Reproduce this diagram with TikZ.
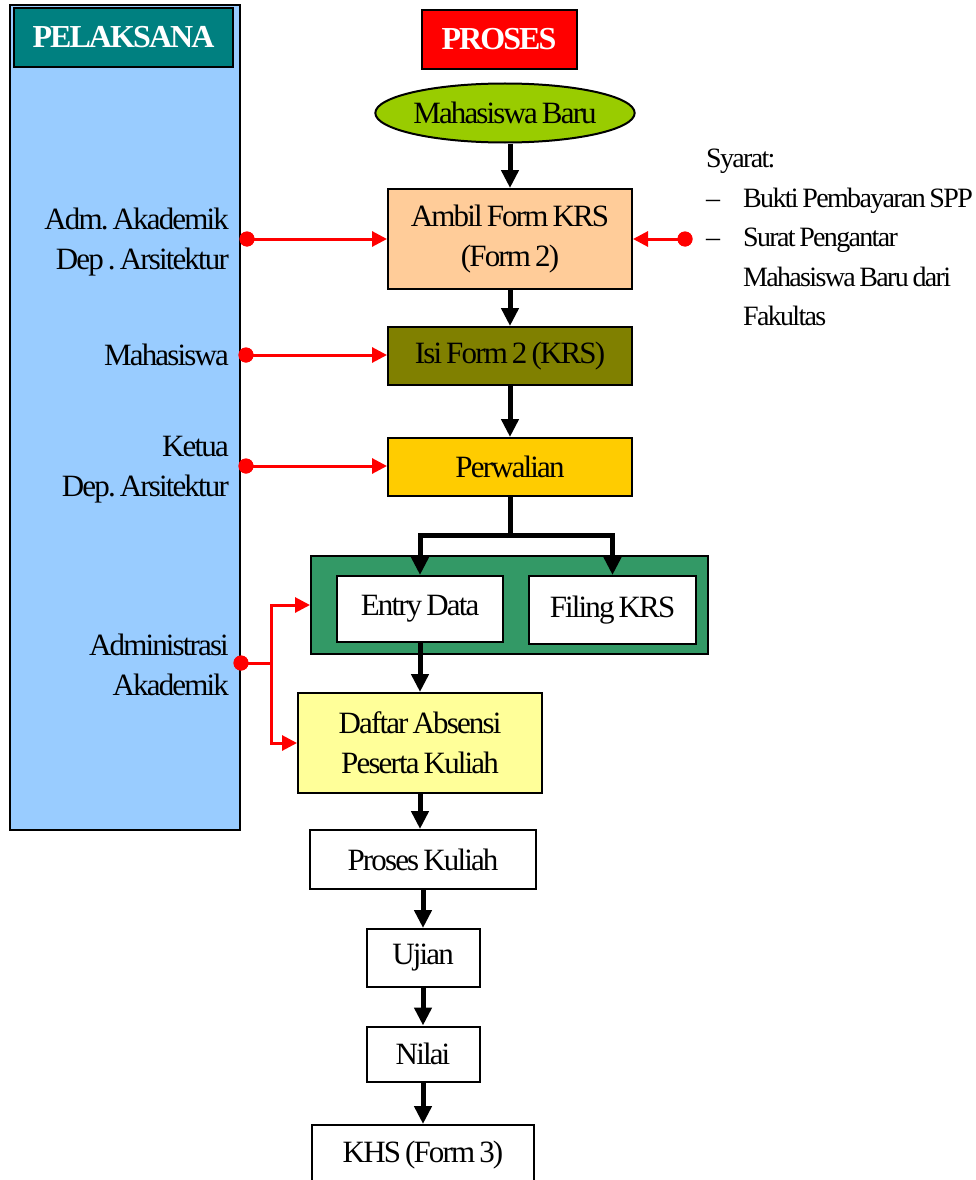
\documentclass[tikz,border=0pt]{standalone}
\usepackage{fontspec}
\setmainfont{Liberation Serif}[LetterSpace=-6, WordSpace=0.7]
\frenchspacing
\usepackage{color}
\usetikzlibrary{arrows.meta}
\usetikzlibrary{positioning, shapes.geometric}

\definecolor{laneblue}{HTML}{99CCFF}
\definecolor{headteal}{HTML}{008080}
\definecolor{startgreen}{HTML}{99CC00}
\definecolor{ambilorange}{HTML}{FFCC99}
\definecolor{isiolive}{HTML}{808000}
\definecolor{perwgold}{HTML}{FFCC00}
\definecolor{groupgreen}{HTML}{339966}
\definecolor{daftaryellow}{HTML}{FFFF99}

\begin{document}
\begin{tikzpicture}[x=1pt,y=-1pt,
    every node/.style={inner sep=0pt, font=\fontsize{31}{40}\selectfont},
    box/.style={draw=black, line width=2pt, align=center},
    head/.style={box, text=white, font=\fontsize{32}{38}\selectfont\bfseries},
    actor/.style={anchor=east, align=right},
    reddot/.style={circle, fill=red, minimum size=15pt},
    redarrow/.style={draw=red, line width=3pt, -{Triangle[length=15pt,width=15pt]}},
    blkarrow/.style={draw=black, line width=5pt, -{Triangle[length=18pt,width=17pt]}}]

    \useasboundingbox (0,0) rectangle (976,1180);

    % lane of the actors
    \node (lane) at (125,417.5) [box, fill=laneblue, minimum width=230pt, minimum height=825pt] {};
    \node (pel) at (123.5,37.5) [head, fill=headteal, minimum width=219pt, minimum height=59pt] {PELAKSANA};
    \node (pro) at (499,39.5) [head, fill=red, minimum width=155pt, minimum height=59pt] {PROSES};

    % actors
    \node (adm) at (229,242) [actor] {Adm. Akademik\\Dep . Arsitektur};
    \node (mhs) at (229,355) [actor] {Mahasiswa};
    \node (ket) at (229,470) [actor] {Ketua\\Dep. Arsitektur};
    \node (aka) at (229,665) [actor] {Administrasi\\Akademik};

    % steps
    \node (mb) at (505,113) [box, ellipse, fill=startgreen, minimum width=254pt, minimum height=59pt] {Mahasiswa Baru};
    \node (ambil) at (510,239) [box, fill=ambilorange, minimum width=244pt, minimum height=100pt] {Ambil Form KRS\\(Form 2)};
    \node (isi) at (510,356) [box, fill=isiolive, minimum width=244pt, minimum height=58pt] {Isi Form 2 (KRS)};
    \node (perw) at (510,467) [box, fill=perwgold, minimum width=244pt, minimum height=58pt] {Perwalian};
    \node (grp) at (509.5,605) [box, fill=groupgreen, minimum width=397pt, minimum height=98pt] {};
    \node (entry) at (420,609) [box, fill=white, minimum width=166pt, minimum height=66pt] {Entry Data};
    \node (filing) at (612.5,610) [box, fill=white, minimum width=167pt, minimum height=68pt] {Filing KRS};
    \node (daftar) at (420,743) [box, fill=daftaryellow, minimum width=244pt, minimum height=100pt] {Daftar Absensi\\Peserta Kuliah};
    \node (kuliah) at (423,859.5) [box, minimum width=226pt, minimum height=59pt] {Proses Kuliah};
    \node (ujian) at (423,958) [box, minimum width=113pt, minimum height=58pt] {Ujian};
    \node (nilai) at (423,1054) [box, minimum width=113pt, minimum height=55pt] {Nilai};
    \node (khs) at (423,1155) [box, minimum width=222pt, minimum height=60pt] {KHS (Form 3)};

    % requirements
    \node (req) at (706,149) [anchor=north west, align=left, font=\fontsize{28}{39.5}\selectfont]
        {Syarat:\\\makebox[37pt][l]{--}Bukti Pembayaran SPP\\\makebox[37pt][l]{--}Surat Pengantar\\\hspace*{37pt}Mahasiswa Baru dari\\\hspace*{37pt}Fakultas};

    % flow (black)
    \coordinate (split) at (510,535);
    \draw [blkarrow] (ambil.north |- mb.south) -- (ambil.north);
    \path [blkarrow] (ambil) edge (isi);
    \path [blkarrow] (isi) edge (perw);
    \draw [draw=black, line width=5pt] (perw.south) -- (split);
    \draw [blkarrow] (split) -| (entry.north);
    \draw [blkarrow] (split) -| (filing.north);
    \draw [blkarrow] (entry.south) -- (daftar.north);
    \draw [blkarrow] (daftar.south) -- (daftar.south |- kuliah.north);
    \path [blkarrow] (kuliah) edge (ujian);
    \path [blkarrow] (ujian) edge (nilai);
    \path [blkarrow] (nilai) edge (khs);

    % who does what (red)
    \node (d1) at (247,239) [reddot] {};
    \node (d2) at (685,239) [reddot] {};
    \node (d3) at (246,355) [reddot] {};
    \node (d4) at (246,466) [reddot] {};
    \node (d5) at (241,663) [reddot] {};
    \coordinate (fork) at (271,663);
    \draw [redarrow] (d1.center) -- (ambil.west |- d1);
    \draw [redarrow] (d2.center) -- (ambil.east |- d2);
    \draw [redarrow] (d3.center) -- (isi.west |- d3);
    \draw [redarrow] (d4.center) -- (perw.west |- d4);
    \draw [redarrow] (d5.center) -- (fork) |- (grp.west);
    \draw [redarrow] (fork) |- (daftar.west);
    \foreach \d in {d1,d2,d3,d4,d5}
        \fill [red] (\d) circle (7.5pt);

\end{tikzpicture}
\end{document}
